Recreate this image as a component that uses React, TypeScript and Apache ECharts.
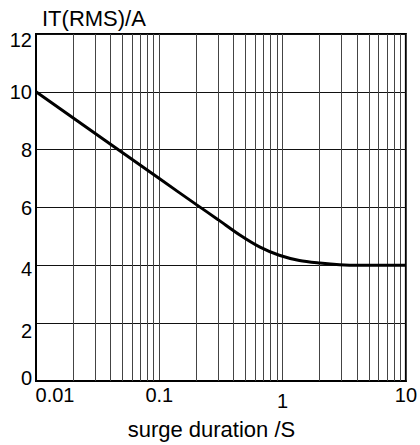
import React, { useEffect, useRef } from "react";
import * as echarts from "echarts";

// Surge duration (s) vs RMS on-state current (A)
const durationS = [0.01, 0.1, 0.2, 0.3, 0.45, 0.65, 0.94, 1.37, 2.0, 2.9, 4.2, 10];
const currentA = [10, 7.0, 6.1, 5.58, 5.05, 4.64, 4.35, 4.17, 4.08, 4.02, 4.0, 4.0];

// Axis ticks
const xTickValues = [0.01, 0.1, 1, 10];
const xTickLabels = ["0.01", "0.1", "1", "10"];
const yTickValues = [0, 2, 4, 6, 8, 10, 12];
const yTickLabels = ["0", "2", "4", "6", "8", "10", "12"];

// Minor logarithmic grid lines
const minorGridX = [
  0.02, 0.03, 0.04, 0.05, 0.06, 0.07, 0.08, 0.09,
  0.2, 0.3, 0.4, 0.5, 0.6, 0.7, 0.8, 0.9,
  2, 3, 4, 5, 6, 7, 8, 9,
];

const yAxisTitle = "IT(RMS)/A";
const xAxisTitle = "surge duration /S";

const FONT = "'Liberation Sans', Arial, Helvetica, sans-serif";

function nearestIndex(arr: number[], v: number): number {
  let best = 0;
  let bestD = Infinity;
  arr.forEach((a, i) => {
    const d = Math.abs(Math.log10(Math.max(a, 1e-9)) - Math.log10(Math.max(v, 1e-9)));
    if (d < bestD) {
      bestD = d;
      best = i;
    }
  });
  return best;
}

export default function App() {
  const ref = useRef<HTMLDivElement>(null);

  useEffect(() => {
    if (!ref.current) return;
    const chart = echarts.init(ref.current, undefined, { renderer: "svg" });
    const tickText = { fontSize: 20, fontFamily: FONT, color: "#000" };
    chart.setOption({
      animation: false,
      backgroundColor: "#fff",
      title: {
        text: yAxisTitle,
        left: 42,
        top: 7,
        padding: 0,
        textStyle: { fontSize: 22, fontWeight: "normal", fontFamily: FONT, color: "#000" },
      },
      grid: {
        left: 36,
        right: 13,
        top: 34,
        bottom: 61,
        show: true,
        borderColor: "#000",
        borderWidth: 2,
        backgroundColor: "transparent",
      },
      xAxis: {
        type: "log",
        logBase: 10,
        min: 0.01,
        max: 10,
        interval: 1,
        name: xAxisTitle,
        nameLocation: "middle",
        nameGap: 37,
        nameTextStyle: {
          fontSize: 22,
          fontFamily: FONT,
          color: "#000",
          padding: [0, 19, 0, 0],
        },
        axisLine: { show: true, lineStyle: { color: "#000", width: 2 } },
        axisTick: { show: false },
        splitLine: { show: true, lineStyle: { color: "#444", width: 1 } },
        axisLabel: {
          margin: 4,
          ...tickText,
          formatter: (v: number) => {
            const i = nearestIndex(xTickValues, v);
            const s = xTickLabels[i];
            if (i === 0) return `{first|${s}}`;
            if (s === "1") return `{one|${s}}`;
            return `{n|${s}}`;
          },
          rich: {
            first: { ...tickText, padding: [0, 0, 0, 38] },
            one: { ...tickText, padding: [6, 0, 0, 0] },
            n: { ...tickText },
          },
        },
      },
      yAxis: {
        type: "value",
        min: 0,
        max: 12,
        interval: 2,
        axisLine: { show: true, lineStyle: { color: "#000", width: 2 } },
        axisTick: { show: false },
        splitLine: { show: true, lineStyle: { color: "#111", width: 1 } },
        axisLabel: {
          margin: 4,
          ...tickText,
          formatter: (v: number) => {
            const i = yTickValues.indexOf(Math.round(v));
            const s = i >= 0 ? yTickLabels[i] : String(v);
            if (s === "12") return `{top|${s}}`;
            if (s === "2") return `{two|${s}}`;
            if (s === "4") return `{four|${s}}`;
            if (s === "0") return `{zero|${s}}`;
            return `{n|${s}}`;
          },
          rich: {
            top: { ...tickText, padding: [12, 0, 0, 0] },
            two: { ...tickText, padding: [16, 0, 0, 0] },
            four: { ...tickText, padding: [8, 0, 0, 0] },
            zero: { ...tickText, padding: [0, 0, 6, 0] },
            n: { ...tickText },
          },
        },
      },
      series: [
        {
          type: "line",
          data: [],
          silent: true,
          z: 1,
          markLine: {
            silent: true,
            z: 1,
            symbol: ["none", "none"],
            label: { show: false },
            lineStyle: { color: "#444", width: 1, type: "solid" },
            emphasis: { disabled: true },
            data: minorGridX.map((v) => ({ xAxis: v })),
          },
        },
        {
          type: "line",
          z: 5,
          data: durationS.map((d, i) => [d, currentA[i]]),
          smooth: 0.3,
          showSymbol: false,
          symbol: "none",
          lineStyle: { color: "#000", width: 3 },
        },
      ],
    });
    return () => chart.dispose();
  }, []);

  return (
    <div
      ref={ref}
      style={{ position: "fixed", left: 0, top: 0, width: 420, height: 445, background: "#fff" }}
    />
  );
}
